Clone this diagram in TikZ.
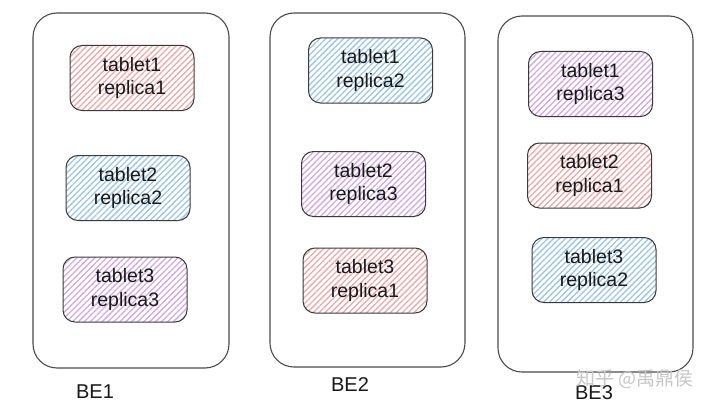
\documentclass[tikz,border=0pt]{standalone}
\usepackage{fontspec}
\setmainfont{Liberation Sans}
\newfontfamily\cjkfont{Noto Sans CJK SC}
\usetikzlibrary{patterns.meta}
\definecolor{redhatch}{HTML}{EDA8A8}
\definecolor{bluehatch}{HTML}{9CC6E6}
\definecolor{purphatch}{HTML}{D3A8E3}
\definecolor{boxline}{HTML}{3A3A3A}
\definecolor{outerline}{HTML}{4A4A4A}
\tikzset{
  server/.style={draw=outerline, line width=1.1pt, rounded corners=24pt, rectangle, inner sep=0pt},
  replicabox/.style={draw=boxline, line width=1pt, rounded corners=12pt, rectangle,
    minimum width=124pt, minimum height=65pt, align=center, inner sep=0pt,
    font=\fontsize{19.5}{23.5}\selectfont, text=black!90},
  redfill/.style={replicabox, pattern={Lines[angle=45,distance=4.2pt,line width=1.3pt]}, pattern color=redhatch},
  bluefill/.style={replicabox, pattern={Lines[angle=45,distance=4.2pt,line width=1.3pt]}, pattern color=bluehatch},
  purpfill/.style={replicabox, pattern={Lines[angle=45,distance=4.2pt,line width=1.3pt]}, pattern color=purphatch},
  belabel/.style={font=\fontsize{20}{23}\selectfont, text=black!90, inner sep=0pt},
}
\begin{document}
\begin{tikzpicture}[x=1pt,y=-1pt]
\useasboundingbox[fill=white] (0,0) rectangle (720,412);
% servers
\node[server, minimum width=196pt, minimum height=355pt] (be1) at (131,190.5) {};
\node[server, minimum width=195pt, minimum height=354pt] (be2) at (367.5,190) {};
\node[server, minimum width=195pt, minimum height=356pt] (be3) at (595.5,194) {};
% BE1
\node[redfill]  (b1t1) at (132,78)    {tablet1\\replica1};
\node[bluefill] (b1t2) at (128,188)   {tablet2\\replica2};
\node[purpfill] (b1t3) at (125,289.5) {tablet3\\replica3};
% BE2
\node[bluefill] (b2t1) at (370.5,70.5) {tablet1\\replica2};
\node[purpfill] (b2t2) at (363.5,184)  {tablet2\\replica3};
\node[redfill]  (b2t3) at (365,280.5)  {tablet3\\replica1};
% BE3
\node[purpfill] (b3t1) at (590.5,84)   {tablet1\\replica3};
\node[redfill]  (b3t2) at (589.5,175.5){tablet2\\replica1};
\node[bluefill] (b3t3) at (594,270)    {tablet3\\replica2};
% labels
\node[belabel] (l1) at (95,392)  {BE1};
\node[belabel] (l2) at (350,385) {BE2};
\node[belabel] (l3) at (594,393) {BE3};
% watermark
\node[font=\cjkfont\fontsize{19}{22}\selectfont, text=black!22, inner sep=0pt] (wm) at (635,379) {知乎 @禹鼎侯};
\end{tikzpicture}
\end{document}
